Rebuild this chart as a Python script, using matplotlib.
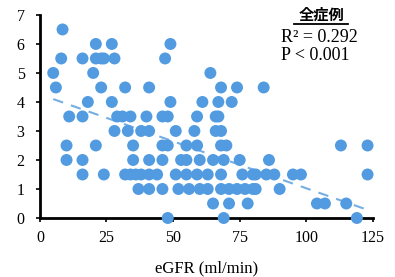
import numpy as np
import matplotlib.pyplot as plt
from matplotlib.lines import Line2D

# eGFR と値
y_levels = [6.5, 6, 5.5, 5, 4.5, 4, 3.5, 3, 2.5, 2, 1.5, 1, 0.5, 0]
egfr_rows = [
    [8.5],
    [21, 27, 49],
    [8, 16, 21, 23, 24, 28, 47],
    [5, 20, 64],
    [6, 23, 32, 41, 68, 74, 84],
    [18, 27, 49, 61, 67, 72],
    [11, 16, 29, 31, 34, 40, 46, 48, 59, 66, 67],
    [28, 33, 38, 41, 51, 58, 66, 68],
    [10, 21, 35, 46, 48, 55, 59, 68, 70, 113, 123],
    [10, 16, 35, 41, 46, 53, 55, 60, 65, 69, 75, 86],
    [16, 24, 32, 34, 36, 38, 41, 44, 51, 55, 59, 63, 68, 76, 80, 81, 85, 88, 95, 98, 123],
    [37, 41, 46, 52, 56, 60, 63, 68, 71, 74, 77, 80, 81, 90],
    [65, 71, 78, 104, 107, 115],
    [48, 69, 119],
]
trend_x = [5, 123]
trend_y = [4.1, 0.28]

x = np.concatenate([np.array(r, float) for r in egfr_rows])
y = np.concatenate([np.full(len(r), v) for r, v in zip(egfr_rows, y_levels)])

plt.rcParams['font.family'] = ['Liberation Serif', 'Noto Sans CJK JP']

fig = plt.figure(figsize=(3.95, 2.77), dpi=100)
ax = fig.add_axes([0.101, 0.213, 0.843, 0.733])

blue = '#529be0'
ax.scatter(x, y, s=74, c=blue, edgecolors='none', zorder=3, clip_on=False)
ax.plot(trend_x, trend_y, linestyle=(0, (5, 4)), color='#74aee2', lw=1.5, zorder=2)

ax.set_xlim(0, 125)
ax.set_ylim(0, 7)
ax.set_xticks([0, 25, 50, 75, 100, 125])
ax.set_yticks(range(8))
for s in ['top', 'right']:
    ax.spines[s].set_visible(False)
for s in ['left', 'bottom']:
    ax.spines[s].set_linewidth(2)
ax.tick_params(labelsize=11.5, width=1.2, length=3, direction='out')
ax.tick_params(axis='x', pad=6)
ax.tick_params(axis='y', pad=8)
ax.set_xlabel('eGFR (ml/min)', fontsize=12, labelpad=10)

fig.text(0.813, 0.948, '全症例', family=['Noto Sans CJK JP'], fontsize=11,
         fontweight='bold', ha='center', va='center')
fig.add_artist(Line2D([0.745, 0.880], [0.912, 0.912], color='black', lw=1.3))
fig.text(0.712, 0.866, 'R² = 0.292', fontsize=13, ha='left', va='center')
fig.text(0.712, 0.800, 'P < 0.001', fontsize=13, ha='left', va='center')

fig.savefig('out.png', dpi=100)
